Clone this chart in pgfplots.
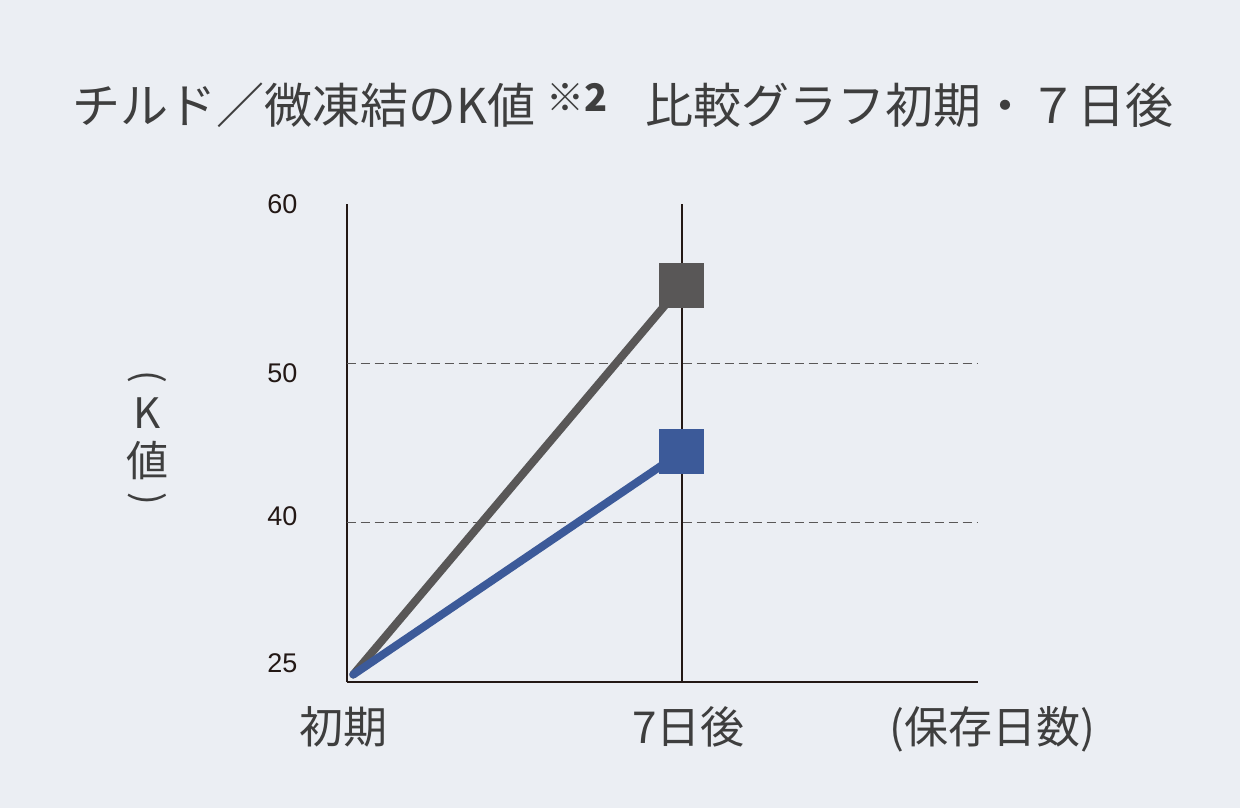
\documentclass[border=0pt]{standalone}
\usepackage{fontspec}
\setmainfont{Noto Sans CJK JP}
\newfontfamily\tickfont{Liberation Sans}
\usepackage{pgfplots}
\pgfplotsset{compat=1.18}
\definecolor{bgcol}{HTML}{EBEEF3}
\definecolor{graycol}{HTML}{595757}
\definecolor{bluecol}{HTML}{3C5A99}
\definecolor{axiscol}{HTML}{231815}
\definecolor{textcol}{HTML}{3E3E3E}
\definecolor{gridcol}{HTML}{595757}
\begin{document}
\begin{tikzpicture}
\fill[bgcol] (0,0) rectangle (620bp,404bp);
\useasboundingbox (0,0) rectangle (620bp,404bp);
\begin{axis}[
  at={(173.35bp,63bp)}, anchor=south west,
  scale only axis, width=315.5bp, height=238.85bp,
  axis lines*=left,
  axis line style={draw=axiscol, line width=1bp},
  xmin=-0.0201, xmax=1.9013,
  ymin=25, ymax=60,
  y coord trafo/.code={\pgfmathparse{#1+max(40-#1,0)/3}},
  y coord inv trafo/.code={\pgfmathparse{#1-0.5*max(40-#1,0)}},
  xtick={0,1},
  xticklabels={{\hspace*{-10bp}初期},{\hspace*{6.6bp}7日後}},
  xticklabel style={anchor=base, yshift=-30.85bp, inner sep=0pt,
    font=\fontsize{22bp}{22bp}\selectfont, text=textcol},
  ytick={25,40,50,60},
  yticklabels={{\raisebox{4.87bp}[0pt][0pt]{25}},{\raisebox{-1.6bp}[0pt][0pt]{40}},{\raisebox{-9.7bp}[0pt][0pt]{50}},{\raisebox{-4.5bp}[0pt][0pt]{60}}},
  yticklabel style={anchor=east, inner sep=0pt, xshift=-24.5bp,
    font=\tickfont\fontsize{13.5bp}{13.5bp}\selectfont, text=axiscol},
  major tick length=0pt,
  extra x ticks={1}, extra x tick labels={},
  extra x tick style={grid=major, major grid style={draw=axiscol, line width=0.9bp, solid}},
  extra y ticks={40,50}, extra y tick labels={},
  extra y tick style={grid=major, major grid style={draw=gridcol, line width=0.6bp, dash pattern=on 4.5bp off 2.5bp}},
  clip=false,
]
\addplot[draw=graycol, line width=4bp, line cap=round, mark=square*, mark indices={2}, mark size=11bp,
  mark options={fill=graycol, draw=graycol, line width=0pt, solid}] coordinates {(0,25.7) (1,54.9)};
\addplot[draw=bluecol, line width=4bp, line cap=round, mark=square*, mark indices={2}, mark size=11bp,
  mark options={fill=bluecol, draw=bluecol, line width=0pt, solid}] coordinates {(0,25.7) (1,44.45)};
\end{axis}
\node[anchor=base west, inner sep=0pt, text=textcol, font=\fontsize{24bp}{24bp}\selectfont] at (36bp,342.2bp)
  {チルド／微凍結のK値\hspace{5.5bp}\raisebox{6bp}{\fontsize{19bp}{19bp}\selectfont ※\textbf{2}}\hspace{19bp}比較グラフ初期・７日後};
\node[anchor=base, inner sep=0pt, text=textcol, font=\fontsize{22bp}{22bp}\selectfont] at (496.25bp,32.15bp) {(保存日数)};
\begin{scope}[every node/.style={inner sep=0pt, text=textcol, font=\fontsize{21bp}{21bp}\selectfont}]
\node[rotate=-90, font=\fontsize{19bp}{19bp}\selectfont] at (73.5bp,215.5bp) {(};
\node at (73.5bp,197.5bp) {K};
\node at (73.5bp,173.75bp) {値};
\node[rotate=-90, font=\fontsize{19bp}{19bp}\selectfont] at (73.5bp,154.65bp) {)};
\end{scope}
\end{tikzpicture}
\end{document}
